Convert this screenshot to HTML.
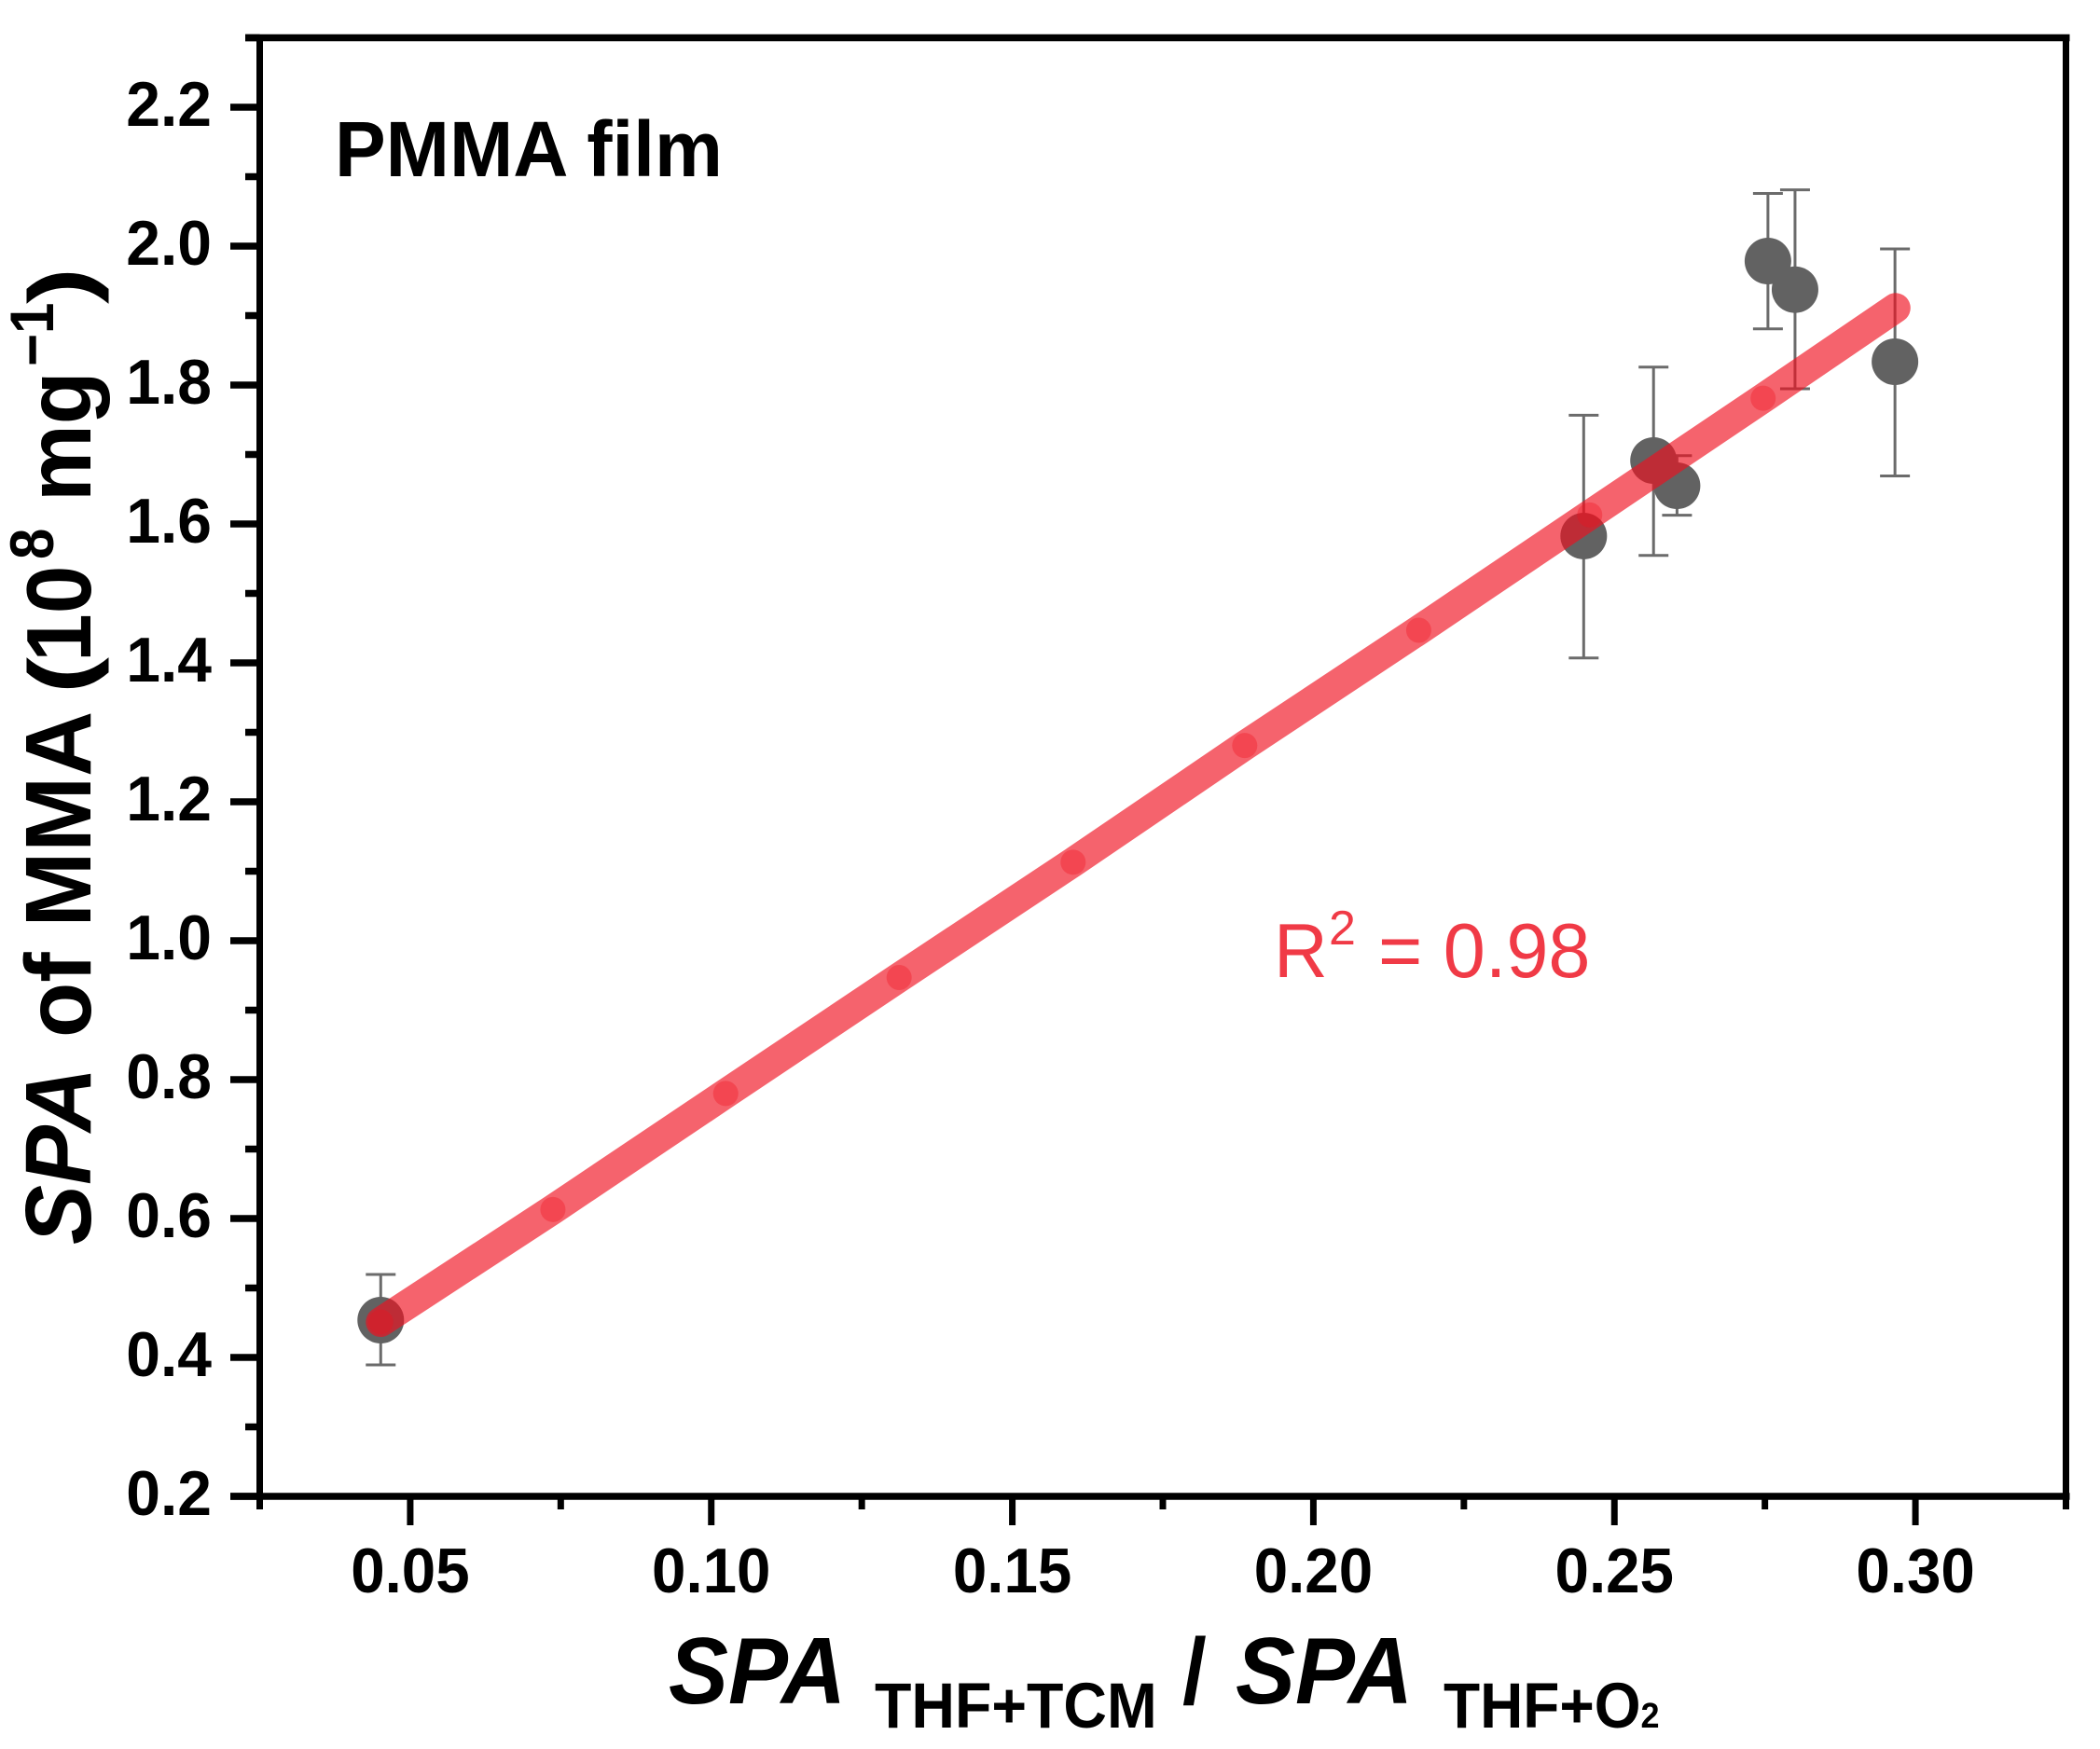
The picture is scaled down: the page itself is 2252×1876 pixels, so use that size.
<!DOCTYPE html>
<html lang="en">
<head>
<meta charset="utf-8">
<title>SPA of MMA vs SPA ratio, PMMA film</title>
<style>
html,body{margin:0;padding:0;background:#fff;}
svg{display:block;}
text{font-family:"Liberation Sans",Arial,sans-serif;fill:#000;}
.b{font-weight:700;}
.bi{font-weight:700;font-style:italic;}
</style>
</head>
<body>
<svg id="chart" xmlns="http://www.w3.org/2000/svg" width="2252" height="1876" viewBox="0 0 2252 1876">
  <rect x="0" y="0" width="2252" height="1876" fill="#ffffff"/>
  <g id="axes"></g>
  <g id="marks"></g>
  <text class="b" font-size="82" transform="translate(359,189) scale(1,1.03)">PMMA film</text>
  <g>
    <text style="fill:#f03a46" font-size="80" transform="translate(1366,1048) scale(1,1.03)">R</text>
    <text style="fill:#f03a46" font-size="52" transform="translate(1425,1013)">2</text>
    <text style="fill:#f03a46" font-size="81" transform="translate(1478,1048) scale(1,1.02)">= 0.98</text>
  </g>
  <g>
    <text class="bi" font-size="96" transform="translate(717,1827) scale(1,1.05)">SPA</text>
    <text class="b" font-size="64.5" transform="translate(938,1853) scale(1,1.06)">THF+TCM</text>
    <text class="b" font-size="93" transform="translate(1268,1827) scale(1,1.08)">/</text>
    <text class="bi" font-size="96" transform="translate(1325,1827) scale(1,1.05)">SPA</text>
    <text class="b" font-size="64" transform="translate(1548,1853) scale(1,1.067)">THF+O<tspan font-size="36">2</tspan></text>
  </g>
  <g>
    <text class="bi" font-size="96" transform="translate(97,1335) rotate(-90) scale(1,1.04)">SPA</text>
    <text class="b" font-size="97" transform="translate(97,1113) rotate(-90) scale(1,1.03)">of MMA</text>
    <text class="b" font-size="90" transform="translate(97,744) rotate(-90) scale(1.3,1.05)">(</text>
    <text class="b" font-size="93" transform="translate(97,710) rotate(-90) scale(1,1.06)">10</text>
    <text class="b" font-size="60" transform="translate(57,600) rotate(-90) scale(1,1.1)">8</text>
    <text class="b" font-size="93" transform="translate(97,538) rotate(-90) scale(1,1.06)">mg</text>
    <text class="b" font-size="60" transform="translate(57,393) rotate(-90) scale(1,1.1)">&#8722;1</text>
    <text class="b" font-size="90" transform="translate(97,326) rotate(-90) scale(1.3,1.05)">)</text>
  </g>
</svg>
<script>
// Chart data
const xTickValues = [0.05, 0.10, 0.15, 0.20, 0.25, 0.30];
const xTickLabels = ["0.05", "0.10", "0.15", "0.20", "0.25", "0.30"];
const xMinorTicks = [0.025, 0.075, 0.125, 0.175, 0.225, 0.275, 0.325];
const yTickValues = [0.2, 0.4, 0.6, 0.8, 1.0, 1.2, 1.4, 1.6, 1.8, 2.0, 2.2];
const yTickLabels = ["0.2", "0.4", "0.6", "0.8", "1.0", "1.2", "1.4", "1.6", "1.8", "2.0", "2.2"];
const yMinorTicks = [0.3, 0.5, 0.7, 0.9, 1.1, 1.3, 1.5, 1.7, 1.9, 2.1, 2.3];
const pointX = [0.0451, 0.2449, 0.2565, 0.2604, 0.2755, 0.2800, 0.2966];
const pointY = [0.4537, 1.5826, 1.6913, 1.6550, 1.9785, 1.9373, 1.8336];
const pointErrUp = [0.0658, 0.1739, 0.1345, 0.0434, 0.0973, 0.1437, 0.1624];
const pointErrDown = [0.0644, 0.1755, 0.1366, 0.0424, 0.0977, 0.1427, 0.1645];
const fitX = [0.0451, 0.0737, 0.1024, 0.1312, 0.1601, 0.1886, 0.2175, 0.2459, 0.2747, 0.2967];
const fitY = [0.451, 0.613, 0.780, 0.947, 1.113, 1.281, 1.447, 1.613, 1.781, 1.911];

const X_MIN = 0.025, X_MAX = 0.325, Y_MIN = 0.2, Y_MAX = 2.3;
const LEFT = 278.5, RIGHT = 2215.5, BOTTOM = 1605, TOP = 40.5;
function sx(v) { return LEFT + (v - X_MIN) / (X_MAX - X_MIN) * (RIGHT - LEFT); }
function sy(v) { return BOTTOM - (v - Y_MIN) / (Y_MAX - Y_MIN) * (BOTTOM - TOP); }

const NS = "http://www.w3.org/2000/svg";
function make(parent, tag, attrs) {
  const el = document.createElementNS(NS, tag);
  for (const k in attrs) el.setAttribute(k, attrs[k]);
  parent.appendChild(el);
  return el;
}
const axes = document.getElementById("axes");
const marks = document.getElementById("marks");

// Axis frame
const frameBottom = make(axes, "line", {x1: 247, y1: sy(Y_MIN), x2: RIGHT + 4, y2: sy(Y_MIN), stroke: "#000", "stroke-width": 7.5});


const frameTop = make(axes, "line", {x1: 263, y1: sy(Y_MAX), x2: RIGHT + 4, y2: sy(Y_MAX), stroke: "#000", "stroke-width": 7.5});


const frameLeft = make(axes, "line", {x1: LEFT, y1: TOP, x2: LEFT, y2: BOTTOM + 14, stroke: "#000", "stroke-width": 7});


const frameRight = make(axes, "line", {x1: RIGHT, y1: TOP, x2: RIGHT, y2: BOTTOM + 14, stroke: "#000", "stroke-width": 7});



// X ticks
xTickValues.forEach(function (v, i) {
  const t = make(axes, "line", {x1: sx(v), y1: BOTTOM, x2: sx(v), y2: 1636, stroke: "#000", "stroke-width": 7});
  
  
  const l = make(axes, "text", {"class": "b", "font-size": 65.5, "text-anchor": "middle", transform: "translate(" + sx(v) + ",1708) scale(1,1.04)"});
  l.textContent = xTickLabels[i];
  
  
});
xMinorTicks.forEach(function (v) {
  const t = make(axes, "line", {x1: sx(v), y1: BOTTOM, x2: sx(v), y2: 1619, stroke: "#000", "stroke-width": 7});
  
  
});

// Y ticks
yTickValues.forEach(function (v, i) {
  const t = make(axes, "line", {x1: 247, y1: sy(v), x2: LEFT, y2: sy(v), stroke: "#000", "stroke-width": 7.5});
  
  
  const l = make(axes, "text", {"class": "b", "font-size": 66, "text-anchor": "end", transform: "translate(227," + (sy(v) + 20) + ") scale(1,1.03)"});
  l.textContent = yTickLabels[i];
  
  
});
yMinorTicks.forEach(function (v) {
  const t = make(axes, "line", {x1: 263, y1: sy(v), x2: LEFT, y2: sy(v), stroke: "#000", "stroke-width": 7.5});
  
  
});

// Error bars
pointX.forEach(function (v, i) {
  const cx = sx(v);
  const top = sy(pointY[i] + pointErrUp[i]);
  const bot = sy(pointY[i] - pointErrDown[i]);
  const g = make(marks, "g", {stroke: "#6b6b6b", "stroke-width": 3, fill: "none"});
  
  
  make(g, "line", {x1: cx, y1: top, x2: cx, y2: bot});
  make(g, "line", {x1: cx - 16, y1: top, x2: cx + 16, y2: top});
  make(g, "line", {x1: cx - 16, y1: bot, x2: cx + 16, y2: bot});
});

// Points
pointX.forEach(function (v, i) {
  const c = make(marks, "circle", {cx: sx(v), cy: sy(pointY[i]), r: 25, fill: "#626262"});
  
  
});

// Fit line: translucent thick line with small translucent sample dots
const fitPath = fitX.map(function (v, i) { return sx(v) + "," + sy(fitY[i]); }).join(" ");
const fitLine = make(marks, "polyline", {points: fitPath, fill: "none", stroke: "#f0101e", "stroke-opacity": 0.65, "stroke-width": 32, "stroke-linecap": "round", "stroke-linejoin": "round"});


for (let i = 0; i < fitX.length - 1; i++) {
  const d = make(marks, "circle", {cx: sx(fitX[i]), cy: sy(fitY[i]), r: 13.5, fill: "#f0101e", "fill-opacity": 0.35});
  
  
}
</script>
</body>
</html>
